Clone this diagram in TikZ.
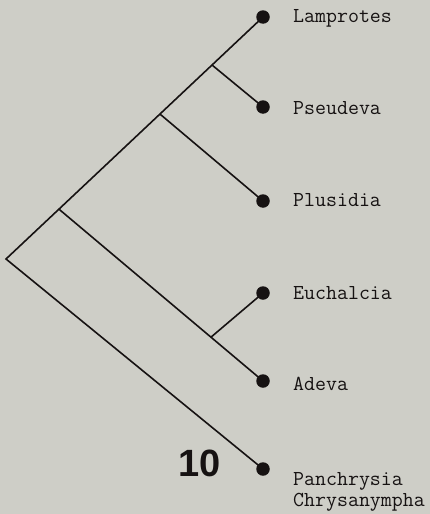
\documentclass[tikz,border=0pt]{standalone}
\usepackage{fontspec}
\newfontfamily\numfont{Liberation Sans}
\usetikzlibrary{calc}
\definecolor{bg}{RGB}{206,206,199}
\definecolor{ink}{RGB}{22,18,18}
\tikzset{
  leaf/.style={circle,fill=ink,inner sep=0pt,minimum size=13.5pt},
  branch/.style={draw=ink,line width=1.6pt,line join=miter},
  lbl/.style={anchor=base west,inner sep=0pt,text=ink,font=\ttfamily\fontsize{21.3}{20}\selectfont,align=left}
}
\begin{document}
\begin{tikzpicture}[x=1pt,y=-1pt]
\fill[bg] (0,0) rectangle (430,514);
\useasboundingbox (0,0) rectangle (430,514);
% leaves
\node[leaf] (lam) at (263,17) {};
\node[leaf] (pse) at (263,107) {};
\node[leaf] (plu) at (263,201) {};
\node[leaf] (euc) at (263,293) {};
\node[leaf] (ade) at (263,381) {};
\node[leaf] (pan) at (263,469) {};
% junctions
\coordinate (R) at (6,259);
\coordinate (A) at ($(R)!0.8016!(lam.center)$);
\coordinate (B) at ($(R)!0.599!(lam.center)$);
\coordinate (C) at ($(R)!0.206!(lam.center)$);
\coordinate (D) at ($(C)!0.745!(ade.center)$);
% branches
\draw[branch] (lam.center) -- (R) -- (pan.center);
\draw[branch] (A) -- (pse.center);
\draw[branch] (B) -- (plu.center);
\draw[branch] (C) -- (ade.center);
\draw[branch] (D) -- (euc.center);
% labels
\node[lbl] (tlam) at (293,23) {Lamprotes};
\node[lbl] (tpse) at (293,114) {Pseudeva};
\node[lbl] (tplu) at (293,206.5) {Plusidia};
\node[lbl] (teuc) at (293,299) {Euchalcia};
\node[lbl] (tade) at (293,390.5) {Adeva};
\node[lbl] (tpan) at (293,485.5) {Panchrysia};
\node[lbl] (tchr) at (293,506) {Chrysanympha};
\node[anchor=base,inner sep=0pt,text=ink,font=\numfont\bfseries\fontsize{38}{38}\selectfont] (num) at (200,476) {10};
\end{tikzpicture}
\end{document}
